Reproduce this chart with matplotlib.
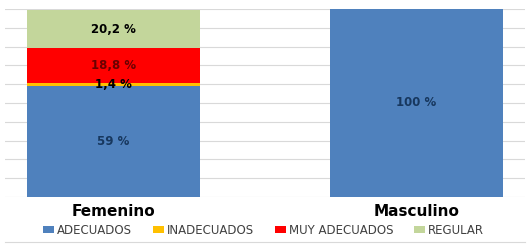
import numpy as np
import matplotlib
matplotlib.use('Agg')
import matplotlib.pyplot as plt
from matplotlib.patches import Patch
from matplotlib.lines import Line2D

categories = ['Femenino', 'Masculino']
series_names = ['ADECUADOS', 'INADECUADOS', 'MUY ADECUADOS', 'REGULAR']
adecuados = [59, 100]
inadecuados = [1.4, 0]
muy_adecuados = [18.8, 0]
regular = [20.2, 0]
labels = [['59 %', '100 %'], ['1,4 %', ''], ['18,8 %', ''], ['20,2 %', '']]

colors = ['#4F81BD', '#FFC000', '#FF0000', '#C3D69B']
label_colors = ['#17375E', '#000000', '#6B0000', '#000000']

fig = plt.figure(figsize=(5.27, 2.46), dpi=100)
ax = fig.add_axes([5/527, 1-197/246, 520/527, 188/246])

x = np.arange(len(categories))
bottom = np.zeros(len(categories))
for vals, col, lab, lcol, name in zip([adecuados, inadecuados, muy_adecuados, regular],
                                       colors, labels, label_colors, series_names):
    vals = np.array(vals, dtype=float)
    ax.bar(x, vals, 0.571, bottom=bottom, color=col, zorder=2, label=name)
    for i in range(len(x)):
        if lab[i]:
            ax.text(x[i], bottom[i] + vals[i]/2, lab[i], ha='center', va='center',
                    fontsize=8.5, fontweight='bold', color=lcol, zorder=3)
    bottom += vals

ax.set_xlim(-0.358, 1.358)
ax.set_ylim(0, 100)
ax.set_yticks(np.arange(0, 101, 10))
ax.yaxis.grid(True, color='#D9D9D9', linewidth=0.8, zorder=0)
ax.tick_params(axis='y', length=0, labelleft=False)
ax.set_xticks(x)
ax.set_xticklabels(categories, fontsize=11, fontweight='bold')
ax.tick_params(axis='x', length=0, pad=5)
for s in ax.spines.values():
    s.set_visible(False)

handles = [Patch(facecolor=c, edgecolor='none') for c in colors]
fig.legend(handles, series_names, loc='center', bbox_to_anchor=(0.5, 1-230/246),
           ncol=4, frameon=False, fontsize=8.5, handlelength=0.9, handleheight=0.5,
           handletextpad=0.25, columnspacing=1.8, labelcolor='#404040')

fig.add_artist(Line2D([5/527, 525/527], [1-242/246, 1-242/246], color='#D9D9D9',
                      linewidth=0.8, transform=fig.transFigure))

fig.savefig('out.png', dpi=100)
